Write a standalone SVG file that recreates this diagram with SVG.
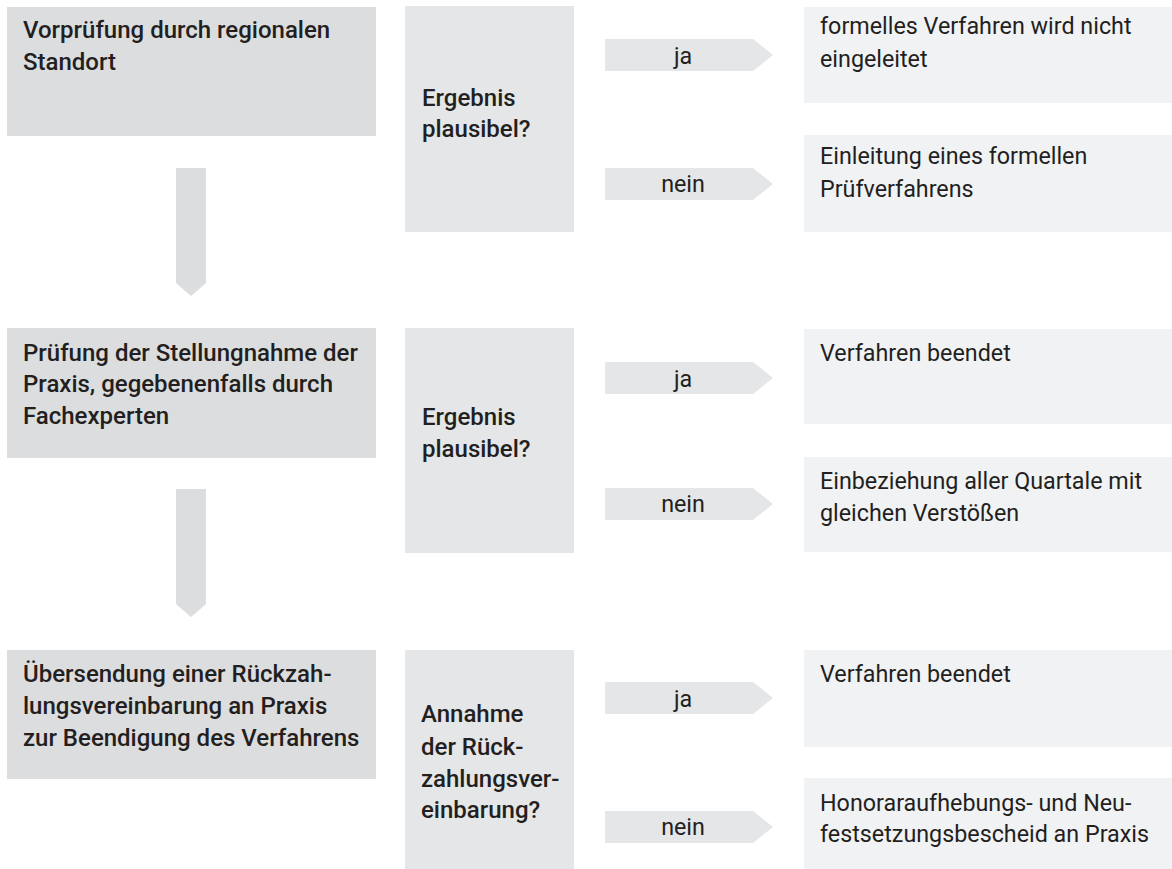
<svg xmlns="http://www.w3.org/2000/svg" width="1172" height="869" viewBox="0 0 1172 869">
<style>
text{font-family:Roboto,"Liberation Sans",sans-serif;font-size:23.3px;fill:#231f20}
.b{font-weight:500;font-size:24px;fill:#231f20}
.step{fill:#dcdddf}
.dec{fill:#e5e6e8}
.res{fill:#f1f2f4}
.arr{fill:#e5e6e8}
.down{fill:#dcdddf}
.c{text-anchor:middle}
</style>
<rect width="1172" height="869" fill="#ffffff"/>
<g id="connectors">
<path class="down" d="M176,168 H206 V283 L191,296 L176,283 Z"/>
<path class="down" d="M176,489 H206 V604 L191,617 L176,604 Z"/>
<g id="ja1"><path class="arr" d="M605,39 H753 L773,55 L753,71 H605 Z"/><text class="c" x="683" y="64">ja</text></g>
<g id="nein1"><path class="arr" d="M605,168 H753 L773,184 L753,200 H605 Z"/><text class="c" x="683" y="192">nein</text></g>
<g id="ja2"><path class="arr" d="M605,362 H753 L773,378 L753,394 H605 Z"/><text class="c" x="683" y="387">ja</text></g>
<g id="nein2"><path class="arr" d="M605,488 H753 L773,504 L753,520 H605 Z"/><text class="c" x="683" y="512">nein</text></g>
<g id="ja3"><path class="arr" d="M605,682 H753 L773,698 L753,714 H605 Z"/><text class="c" x="683" y="707">ja</text></g>
<g id="nein3"><path class="arr" d="M605,811 H753 L773,827 L753,843 H605 Z"/><text class="c" x="683" y="835">nein</text></g>
</g>
<g id="step1"><rect class="step" x="7" y="7" width="369" height="129"/>
<text class="b" x="23" y="38">Vorprüfung durch regionalen</text><text class="b" x="23" y="70">Standort</text></g>
<g id="step2"><rect class="step" x="7" y="328" width="369" height="130"/>
<text class="b" x="23" y="361">Prüfung der Stellungnahme der</text><text class="b" x="23" y="392">Praxis, gegebenenfalls durch</text><text class="b" x="23" y="424">Fachexperten</text></g>
<g id="step3"><rect class="step" x="7" y="650" width="369" height="129"/>
<text class="b" x="23" y="682">Übersendung einer Rückzah-</text><text class="b" x="23" y="714">lungsvereinbarung an Praxis</text><text class="b" x="23" y="746">zur Beendigung des Verfahrens</text></g>
<g id="dec1"><rect class="dec" x="405" y="6" width="169" height="226"/>
<text class="b" x="422" y="106">Ergebnis</text><text class="b" x="422" y="137">plausibel?</text></g>
<g id="dec2"><rect class="dec" x="405" y="328" width="169" height="225"/>
<text class="b" x="422" y="425">Ergebnis</text><text class="b" x="422" y="457">plausibel?</text></g>
<g id="dec3"><rect class="dec" x="405" y="650" width="169" height="226"/>
<text class="b" x="421" y="722">Annahme</text><text class="b" x="421" y="755">der Rück-</text><text class="b" x="421" y="787">zahlungsver-</text><text class="b" x="421" y="818">einbarung?</text></g>
<g id="res1a"><rect class="res" x="804" y="7" width="368" height="96"/>
<text x="820" y="34">formelles Verfahren wird nicht</text><text x="820" y="67">eingeleitet</text></g>
<g id="res1b"><rect class="res" x="804" y="135" width="368" height="97"/>
<text x="820" y="164">Einleitung eines formellen</text><text x="820" y="197">Prüfverfahrens</text></g>
<g id="res2a"><rect class="res" x="804" y="329" width="368" height="95"/>
<text x="820" y="361">Verfahren beendet</text></g>
<g id="res2b"><rect class="res" x="804" y="457" width="368" height="95"/>
<text x="820" y="489">Einbeziehung aller Quartale mit</text><text x="820" y="521">gleichen Verstößen</text></g>
<g id="res3a"><rect class="res" x="804" y="650" width="368" height="97"/>
<text x="820" y="682">Verfahren beendet</text></g>
<g id="res3b"><rect class="res" x="804" y="778" width="368" height="97"/>
<text x="820" y="811">Honoraraufhebungs- und Neu-</text><text x="820" y="842">festsetzungsbescheid an Praxis</text></g>
</svg>
